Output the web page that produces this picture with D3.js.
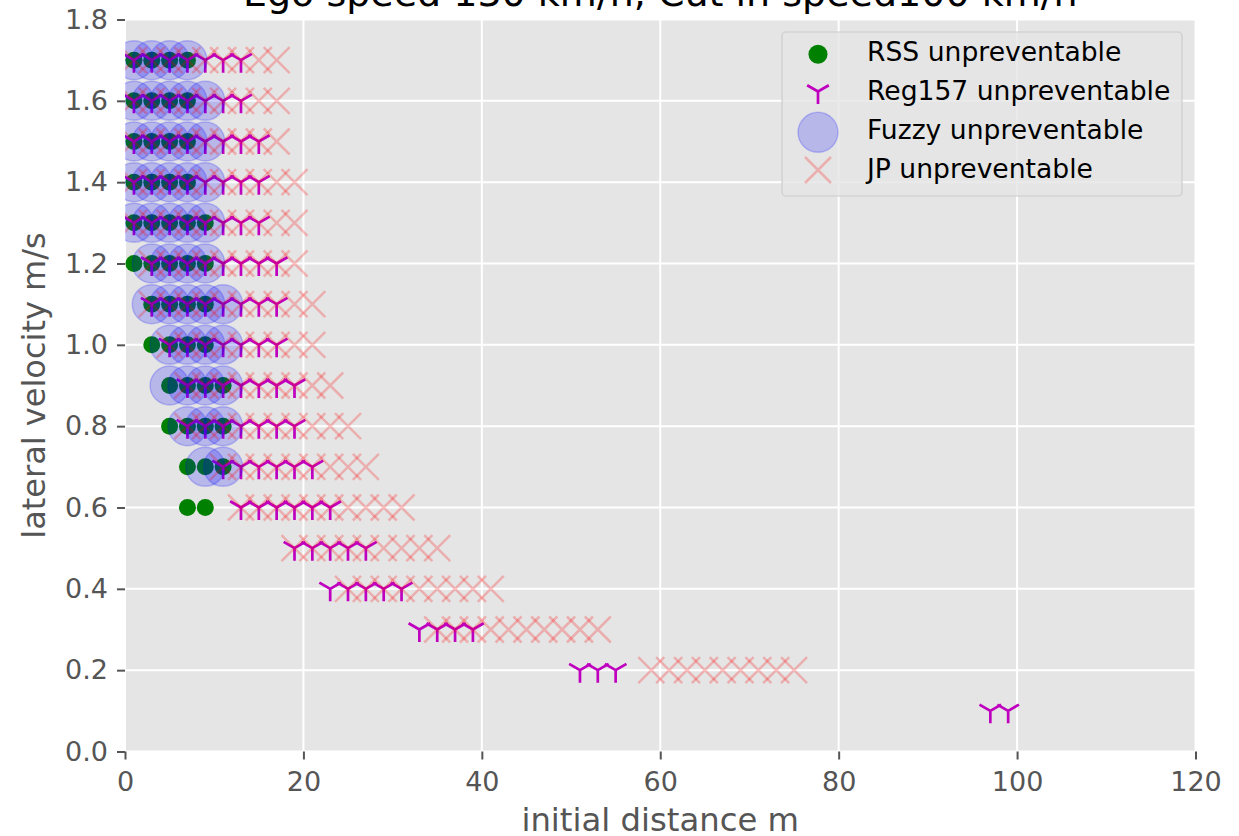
<!DOCTYPE html>
<html><head><meta charset="utf-8">
<script src="https://cdn.jsdelivr.net/npm/d3@7/dist/d3.min.js"></script>
<style>body{margin:0;background:#fff} text{font-family:"DejaVu Sans",sans-serif}</style>
</head><body><svg id="c" width="1239" height="836"></svg>
<script>
// ---- data ----
const titleText = "Ego speed 130 km/h, Cut in speed100 km/h";
const lateralVelocity = [1.7,1.6,1.5,1.4,1.3,1.2,1.1,1.0,0.9,0.8,0.7,0.6,0.5,0.4,0.3,0.2,0.1];
const rssDistance = [
  [1,3,5,7],[1,3,5,7],[1,3,5,7],[1,3,5,7],[1,3,5,7,9],[1,3,5,7,9],
  [3,5,7,9],[3,5,7,9],[5,7,9,11],[5,7,9,11],[7,9,11],[7,9],[],[],[],[],[]
];
const reg157Distance = [
  [1,3,5,7,9,11,13],[1,3,5,7,9,11,13],[1,3,5,7,9,11,13,15],[1,3,5,7,9,11,13,15],
  [1,3,5,7,9,11,13,15],[3,5,7,9,11,13,15,17],[3,5,7,9,11,13,15,17],[5,7,9,11,13,15,17],
  [7,9,11,13,15,17,19],[7,9,11,13,15,17,19],[11,13,15,17,19,21],[13,15,17,19,21,23],
  [19,21,23,25,27],[23,25,27,29,31],[33,35,37,39],[51,53,55],[97,99]
];
const fuzzyDistance = [
  [1,3,5,7],[1,3,5,7,9],[1,3,5,7,9],[1,3,5,7,9],[1,3,5,7,9],[3,5,7,9],
  [3,5,7,9,11],[5,7,9,11],[5,7,9,11],[7,9,11],[9,11],[],[],[],[],[],[]
];
const jpDistance = [
  [1,3,5,7,9,11,13,15,17],[1,3,5,7,9,11,13,15,17],[1,3,5,7,9,11,13,15,17],
  [1,3,5,7,9,11,13,15,17,19],[1,3,5,7,9,11,13,15,17,19],[3,5,7,9,11,13,15,17,19],
  [3,5,7,9,11,13,15,17,19,21],[5,7,9,11,13,15,17,19,21],[7,9,11,13,15,17,19,21,23],
  [7,9,11,13,15,17,19,21,23,25],[11,13,15,17,19,21,23,25,27],
  [13,15,17,19,21,23,25,27,29,31],[19,21,23,25,27,29,31,33,35],
  [25,27,29,31,33,35,37,39,41],[35,37,39,41,43,45,47,49,51,53],
  [59,61,63,65,67,69,71,73,75],[]
];
const xTicks = [0,20,40,60,80,100,120];
const yTicks = [0,0.2,0.4,0.6,0.8,1.0,1.2,1.4,1.6,1.8];
const yTickLabels = ["0.0","0.2","0.4","0.6","0.8","1.0","1.2","1.4","1.6","1.8"];
const seriesNames = ["RSS unpreventable","Reg157 unpreventable","Fuzzy unpreventable","JP unpreventable"];
const xLabel = "initial distance m";
const yLabel = "lateral velocity m/s";

// ---- layout ----
const L = 125, R = 1195.5, T = 19.5, B = 751.5;
const x = d3.scaleLinear().domain([0,120]).range([L,R]);
const y = d3.scaleLinear().domain([0,1.8]).range([B,T]);
const svg = d3.select("#c");

svg.append("defs").append("clipPath").attr("id","clip")
  .append("rect").attr("x",L).attr("y",T).attr("width",R-L).attr("height",B-T);

svg.append("rect").attr("x",L).attr("y",T).attr("width",R-L).attr("height",B-T).attr("fill","#E5E5E5");

// grid
const grid = svg.append("g");
grid.selectAll(".gx").data(xTicks).join("line")
  .attr("x1",d=>x(d)).attr("x2",d=>x(d)).attr("y1",T).attr("y2",B)
  .attr("stroke","#fff").attr("stroke-width",2);
grid.selectAll(".gy").data(yTicks).join("line")
  .attr("y1",d=>y(d)).attr("y2",d=>y(d)).attr("x1",L).attr("x2",R)
  .attr("stroke","#fff").attr("stroke-width",2);

// axes
const xAxis = svg.append("g").attr("transform",`translate(0,${B})`)
  .call(d3.axisBottom(x).tickValues(xTicks).tickFormat(d3.format("d")).tickSize(8).tickPadding(12));
const yAxis = svg.append("g").attr("transform",`translate(${L},0)`)
  .call(d3.axisLeft(y).tickValues(yTicks).tickFormat((d,i)=>yTickLabels[i]).tickSize(8).tickPadding(9));
[xAxis,yAxis].forEach(g=>{
  g.select(".domain").remove();
  g.selectAll(".tick line").attr("stroke","#555").attr("stroke-width",2);
  g.selectAll(".tick text").attr("fill","#555").style("font-size","27px").style("font-family","DejaVu Sans");
});

// points
const toPts = arr => lateralVelocity.flatMap((v,i)=>arr[i].map(d=>({d,v})));
const plot = svg.append("g").attr("clip-path","url(#clip)");

const triR = 12.5, xh = 13;
const triPath = r => `M0,0L0,${r}M0,0L${-0.866*r},${-0.5*r}M0,0L${0.866*r},${-0.5*r}`;
const xPath = h => `M${-h},${-h}L${h},${h}M${-h},${h}L${h},${-h}`;

plot.selectAll(".rss").data(toPts(rssDistance)).join("circle")
  .attr("cx",p=>x(p.d)).attr("cy",p=>y(p.v)).attr("r",8.5).attr("fill","#008000");
plot.selectAll(".reg").data(toPts(reg157Distance)).join("path")
  .attr("transform",p=>`translate(${x(p.d)},${y(p.v)})`).attr("d",triPath(triR))
  .attr("fill","none").attr("stroke","#BF00BF").attr("stroke-width",2.7);
plot.selectAll(".fz").data(toPts(fuzzyDistance)).join("circle")
  .attr("cx",p=>x(p.d)).attr("cy",p=>y(p.v)).attr("r",19.5)
  .attr("fill","#0000ff").attr("fill-opacity",0.2)
  .attr("stroke","#0000ff").attr("stroke-opacity",0.2).attr("stroke-width",1.5);
plot.selectAll(".jp").data(toPts(jpDistance)).join("path")
  .attr("transform",p=>`translate(${x(p.d)},${y(p.v)})`).attr("d",xPath(xh))
  .attr("fill","none").attr("stroke","#ff0000").attr("stroke-opacity",0.24).attr("stroke-width",2.5);

// legend
const lg = svg.append("g");
lg.append("rect").attr("x",782).attr("y",32).attr("width",400).attr("height",164)
  .attr("rx",4).attr("fill","#E5E5E5").attr("fill-opacity",0.8).attr("stroke","#CCCCCC").attr("stroke-width",1.2);
const mx = 818;
lg.append("circle").attr("cx",mx).attr("cy",54.3).attr("r",9.5).attr("fill","#008000");
lg.append("path").attr("transform",`translate(${mx},91.5)`).attr("d",triPath(12.5))
  .attr("fill","none").attr("stroke","#BF00BF").attr("stroke-width",2.7);
lg.append("circle").attr("cx",mx).attr("cy",132.3).attr("r",20)
  .attr("fill","#0000ff").attr("fill-opacity",0.2).attr("stroke","#0000ff").attr("stroke-opacity",0.2).attr("stroke-width",1.5);
lg.append("path").attr("transform",`translate(${mx},170)`).attr("d",xPath(13))
  .attr("fill","none").attr("stroke","#ff0000").attr("stroke-opacity",0.24).attr("stroke-width",2.5);
const baseY = [61,100,139,178];
lg.selectAll(".lt").data(seriesNames).join("text")
  .attr("x",867).attr("y",(d,i)=>baseY[i]).text(d=>d)
  .attr("fill","#000").style("font-size","26.6px");

// labels
svg.append("text").attr("x",(L+R)/2).attr("y",831).attr("text-anchor","middle")
  .attr("fill","#555").style("font-size","32.3px").text(xLabel);
svg.append("text").attr("transform",`translate(45,${(T+B)/2}) rotate(-90)`).attr("text-anchor","middle")
  .attr("fill","#555").style("font-size","32px").text(yLabel);
svg.append("text").attr("x",(L+R)/2).attr("y",6).attr("text-anchor","middle")
  .attr("fill","#000").style("font-size","38px").text(titleText);
</script></body></html>
